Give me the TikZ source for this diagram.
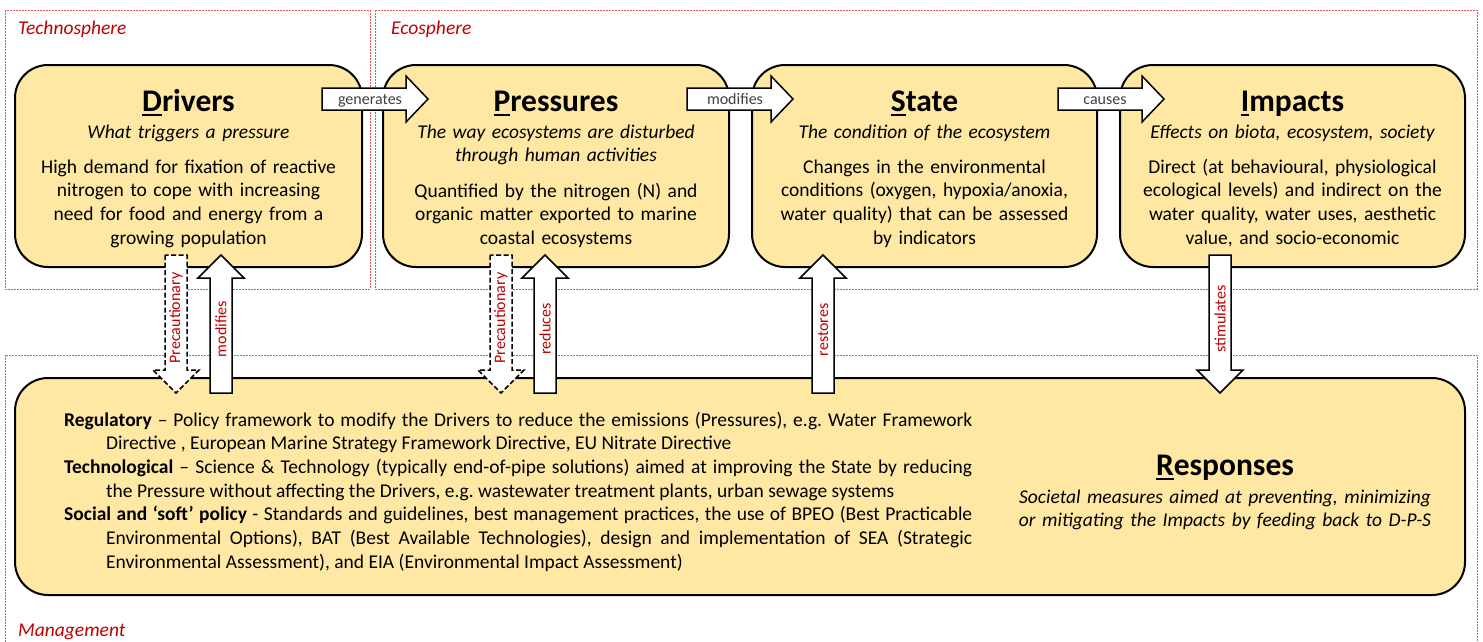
\documentclass[tikz,border=0pt]{standalone}
\usepackage{fontspec}
\setmainfont{Carlito}
\frenchspacing
\definecolor{boxfill}{HTML}{FFE8A4}
\definecolor{lblred}{HTML}{C00000}
\definecolor{framered}{HTML}{E05858}
\definecolor{arrtxt}{HTML}{404040}
\newcommand\firstul[1]{\setbox0\hbox{#1}\rlap{\rule[-4.5pt]{\wd0}{2pt}}\box0}
\newcommand\blkright[4][]{\draw[blockarrow,#1] (#2,88) -- (#3,88) -- (#3,76) -- (#4,99) -- (#3,122) -- (#3,110) -- (#2,110) -- cycle;}
\newcommand\blkup[2][]{\draw[blockarrow,#1] (#2-11,393) -- (#2-11,278) -- (#2-23,278) -- (#2,255) -- (#2+23,278) -- (#2+11,278) -- (#2+11,393) -- cycle;}
\newcommand\blkdown[2][]{\draw[blockarrow,#1] (#2-11,255) -- (#2-11,370) -- (#2-23,370) -- (#2,393) -- (#2+23,370) -- (#2+11,370) -- (#2+11,255) -- cycle;}
\begin{document}
\begin{tikzpicture}[x=1pt,y=-1pt,
  stage/.style={draw=black, line width=2pt, fill=boxfill, rounded corners=33pt, inner sep=0pt},
  frame/.style={draw=framered, line width=1pt, dash pattern=on 2pt off 1pt},
  framelbl/.style={text=lblred, font=\fontsize{19.5}{24}\selectfont\itshape, anchor=base west, inner sep=0pt},
  ttl/.style={font=\fontsize{31.5}{36}\selectfont\bfseries, anchor=base, inner sep=0pt},
  sub/.style={font=\fontsize{19.5}{23.7}\selectfont\itshape, anchor=base, inner sep=0pt, align=center, text width=340pt},
  body/.style={font=\fontsize{19.5}{23.7}\selectfont, anchor=base, inner sep=0pt, align=center, text width=340pt},
  blockarrow/.style={draw=black, line width=1.5pt, fill=white, line join=miter},
  dasharrow/.style={dash pattern=on 5pt off 2.5pt},
  hlab/.style={text=arrtxt, font=\fontsize{16}{18}\selectfont, inner sep=0pt, anchor=base},
  vlab/.style={text=lblred, font=\fontsize{16}{18}\selectfont, inner sep=0pt, rotate=90},
]
\useasboundingbox[fill=white] (0,0) rectangle (1483,641);
% frames
\draw[frame] (5,10) rectangle (370,289);
\draw[frame] (375,10) rectangle (1477,289);
\draw[frame] (5,355) rectangle (1477,680);
\node[framelbl] (ftech) at (18,34) {Technosphere};
\node[framelbl] (feco) at (391,34) {Ecosphere};
\node[framelbl] (fman) at (18,636) {Management};
% boxes
\node[stage, minimum width=347pt, minimum height=202pt] (drivers) at (188.5,166) {};
\node[stage, minimum width=346pt, minimum height=202pt] (pressures) at (556,166) {};
\node[stage, minimum width=345pt, minimum height=202pt] (state) at (924.5,166) {};
\node[stage, minimum width=345pt, minimum height=202pt] (impacts) at (1292.5,166) {};
\node[stage, minimum width=1450pt, minimum height=217pt] (responses) at (740,486.5) {};
% Drivers text
\node[ttl] (drvT) at (188.5,111) {\firstul{D}rivers};
\node[sub] (drvS) at (188.5,138) {What triggers a pressure};
\node[body] (drvB) at (188.5,173) {High demand for fixation of reactive\\nitrogen to cope with increasing\\need for food and energy from a\\growing population};
% Pressures text
\node[ttl] (preT) at (556,111) {\firstul{P}ressures};
\node[sub] (preS) at (556,138) {The way ecosystems are disturbed\\through human activities};
\node[body] (preB) at (556,197) {Quantified by the nitrogen (N) and\\organic matter exported to marine\\coastal ecosystems};
% State text
\node[ttl] (staT) at (924.5,111) {\firstul{S}tate};
\node[sub] (staS) at (924.5,138) {The condition of the ecosystem};
\node[body] (staB) at (924.5,173) {Changes in the environmental\\conditions (oxygen, hypoxia/anoxia,\\water quality) that can be assessed\\by indicators};
% Impacts text
\node[ttl] (impT) at (1292.5,111) {\firstul{I}mpacts};
\node[sub] (impS) at (1292.5,138) {Effects on biota, ecosystem, society};
\node[body] (impB) at (1292.5,173) {Direct (at behavioural, physiological\\ecological levels) and indirect on the\\water quality, water uses, aesthetic\\value, and socio-economic};
% Responses text
\node[ttl] (resT) at (1225,475) {\firstul{R}esponses};
\node[sub, text width=440pt] (resS) at (1225,503) {Societal measures aimed at preventing, minimizing\\or mitigating the Impacts by feeding back to D-P-S};
\node[anchor=base west, inner sep=0pt, text width=908pt, align=justify, font=\fontsize{19.5}{23.7}\selectfont] (resL) at (64,426) {%
\parindent=0pt\hangindent=42pt\hangafter=1 \textbf{Regulatory} – Policy framework to modify the Drivers to reduce the emissions (Pressures), e.g. Water Framework\linebreak Directive , European Marine Strategy Framework Directive, EU Nitrate Directive\par
\hangindent=42pt\hangafter=1 \textbf{Technological} – Science \& Technology (typically end-of-pipe solutions) aimed at improving the State by reducing\linebreak the Pressure without affecting the Drivers, e.g. wastewater treatment plants, urban sewage systems\par
\hangindent=42pt\hangafter=1 \textbf{Social and ‘soft’ policy} - Standards and guidelines, best management practices, the use of BPEO (Best Practicable\linebreak Environmental Options), BAT (Best Available Technologies), design and implementation of SEA (Strategic\linebreak Environmental Assessment), and EIA (Environmental Impact Assessment)\par};
% horizontal block arrows
\blkright{322}{406}{428}
\blkright{687}{771}{793}
\blkright{1058}{1142}{1164}
\node[hlab] (lgen) at (370,104) {generates};
\node[hlab] (lmod1) at (735,104) {modifies};
\node[hlab] (lcau) at (1105,104) {causes};
% vertical block arrows
\blkdown[dasharrow]{176}
\blkup{221}
\blkdown[dasharrow]{501}
\blkup{545}
\blkup{823}
\blkdown{1220}
\node[vlab] (lpre1) at (176,318) {Precautionary};
\node[vlab] (lmod2) at (221,329) {modifies};
\node[vlab] (lpre2) at (501,318) {Precautionary};
\node[vlab] (lred) at (545,329) {reduces};
\node[vlab] (lres) at (823,330) {restores};
\node[vlab] (lsti) at (1220,319) {stimulates};
\end{tikzpicture}
\end{document}
